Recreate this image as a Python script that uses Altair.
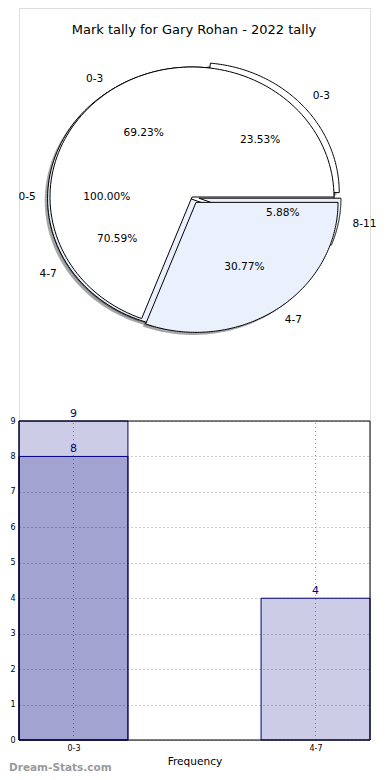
import altair as alt
import pandas as pd

# ---------------- data ----------------
title_text = "Mark tally for Gary Rohan - 2022 tally"

pie1_labels = ["0-5"]
pie1_values = [13]
pie2_labels = ["0-3", "4-7"]
pie2_values = [9, 4]
pie3_labels = ["0-3", "4-7", "8-11"]
pie3_values = [4, 12, 1]

pie1_explode = [0.0]
pie2_explode = [0.0, 0.05]
pie3_explode = [0.05, 0.02, 0.05]
slice_colors = ["#ffffff", "#eaf0fc", "#eaf0fc"]
draw_order = [0, 2, 1]  # pie1, pie3, pie2 (last on top)

bar_categories = ["0-3", "4-7"]
bar_series_a = [9, 4]
bar_series_b = [8, None]
watermark = "Dream-Stats.com"
x_title = "Frequency"

# ---------------- geometry (plot-area pixels) ----------------
W, H = 351, 732
CX, CY = 173, 189
RX, RY = 142, 130
N = 120  # arc sampling steps
BAR_HALF = 0.225
Y_BOTTOM, Y_TOP = 732, 413
FONT = "DejaVu Sans"

rows = []
pies = [(pie1_labels, pie1_values, pie1_explode),
        (pie2_labels, pie2_values, pie2_explode),
        (pie3_labels, pie3_values, pie3_explode)]
for pid, (labs, vals, exps) in enumerate(pies):
    for k, (lab, val, ex) in enumerate(zip(labs, vals, exps)):
        rows.append(dict(pie=pid, k=k, label=lab, value=val, explode=ex,
                         steps=list(range(-1, N + 2))))
pie_df = pd.DataFrame(rows)

pie_base = (
    alt.Chart(pie_df)
    .transform_joinaggregate(total="sum(value)", groupby=["pie"])
    .transform_window(cum="sum(value)", groupby=["pie"],
                      sort=[alt.SortField("k")], frame=[None, 0])
    .transform_calculate(
        a0="2*PI*(datum.cum-datum.value)/datum.total",
        a1="2*PI*datum.cum/datum.total")
    .transform_calculate(mid="(datum.a0+datum.a1)/2")
    .transform_calculate(
        cx=f"{CX}+datum.explode*{RX}*cos(datum.mid)",
        cy=f"{CY}-datum.explode*{RY}*sin(datum.mid)")
    .transform_calculate(
        lx=f"datum.cx+1.1*{RX}*cos(datum.mid)",
        ly=f"datum.cy-1.1*{RY}*sin(datum.mid)",
        px=f"datum.cx+0.6*{RX}*cos(datum.mid)",
        py=f"datum.cy-0.6*{RY}*sin(datum.mid)",
        cm="cos(datum.mid)",
        pct="format(100*datum.value/datum.total, '.2f') + '%'")
)

poly = (
    pie_base.transform_flatten(["steps"])
    .transform_calculate(
        full="datum.a1-datum.a0 > 2*PI-1e-9",
        isc=f"datum.steps<0 || datum.steps>{N}",
        ang=f"datum.a0+(datum.a1-datum.a0)*clamp(datum.steps,0,{N})/{N}")
    .transform_filter("!(datum.full && datum.isc)")
    .transform_calculate(
        vx=f"datum.isc ? datum.cx : datum.cx+{RX}*cos(datum.ang)",
        vy=f"datum.isc ? datum.cy : datum.cy-{RY}*sin(datum.ang)")
    .transform_calculate(
        sx=f"datum.vx-0.02*{RX}",
        sy=f"datum.vy+0.02*{RY}")
)

layers = []
# shadows (all beneath the wedges, as matplotlib's zorder does)
for p in draw_order:
    for k in range(len(pies[p][0])):
        layers.append(
            poly.transform_filter(f"datum.pie=={p} && datum.k=={k}")
            .mark_line(fill="#4d4d4d", fillOpacity=0.5, strokeOpacity=0)
            .encode(x=alt.X("sx:Q", scale=None), y=alt.Y("sy:Q", scale=None),
                    order=alt.Order("steps:Q"))
        )
for p in draw_order:
    for k in range(len(pies[p][0])):
        layers.append(
            poly.transform_filter(f"datum.pie=={p} && datum.k=={k}")
            .mark_line(fill=slice_colors[k], stroke="black", strokeWidth=1,
                       strokeJoin="miter")
            .encode(x=alt.X("vx:Q", scale=None), y=alt.Y("vy:Q", scale=None),
                    order=alt.Order("steps:Q"))
        )

lab_left = pie_base.transform_filter("datum.cm>0.0001").mark_text(
    align="left", baseline="middle", fontSize=10.6, font=FONT, color="black"
).encode(x=alt.X("lx:Q", scale=None), y=alt.Y("ly:Q", scale=None), text="label:N")
lab_right = pie_base.transform_filter("datum.cm<=0.0001").mark_text(
    align="right", baseline="middle", fontSize=10.6, font=FONT, color="black"
).encode(x=alt.X("lx:Q", scale=None), y=alt.Y("ly:Q", scale=None), text="label:N")
pct_text = pie_base.mark_text(
    align="center", baseline="middle", fontSize=10.6, font=FONT, color="black"
).encode(x=alt.X("px:Q", scale=None), y=alt.Y("py:Q", scale=None), text="pct:N")

title_df = pd.DataFrame({"t": [title_text]})
title_layer = alt.Chart(title_df).mark_text(
    fontSize=13, font=FONT, color="black", align="center", baseline="middle"
).encode(x=alt.value(175), y=alt.value(22), text="t:N")

# ---------------- bar chart ----------------
brows = []
for sname, series in (("a", bar_series_a), ("b", bar_series_b)):
    for i, (cat, v) in enumerate(zip(bar_categories, series)):
        if v is not None:
            brows.append(dict(series=sname, idx=i, category=cat, value=v))
bar_df = pd.DataFrame(brows)
cat_df = pd.DataFrame({"idx": list(range(len(bar_categories))),
                       "category": bar_categories})

xscale = alt.Scale(domain=[-BAR_HALF, len(bar_categories) - 1 + BAR_HALF],
                   nice=False, zero=False)
yscale = alt.Scale(domain=[0, 9], range=[Y_BOTTOM, Y_TOP], nice=False)
label_expr = "[" + ",".join(f"'{c}'" for c in bar_categories) + "][datum.value]"
xaxis = alt.Axis(values=list(range(len(bar_categories))), labelExpr=label_expr,
                 grid=False, domain=False, ticks=False, labelPadding=4,
                 labelFontSize=8, labelColor="black", labelFont=FONT,
                 title=x_title, titleFontSize=10.6, titleFontWeight="normal",
                 titleFont=FONT, titleColor="black", titlePadding=4)
yaxis = alt.Axis(values=list(range(0, 10)), grid=True, gridDash=[1, 3],
                 gridColor="#999999", gridWidth=1, domain=False, ticks=False,
                 labelPadding=4, labelFontSize=8, labelColor="black",
                 labelFont=FONT, title=None)

bars = alt.Chart(bar_df).transform_calculate(
    x0=f"datum.idx-{BAR_HALF}", x1=f"datum.idx+{BAR_HALF}"
).mark_rect(fill="navy", fillOpacity=0.2, stroke="navy", strokeWidth=1).encode(
    x=alt.X("x0:Q", scale=xscale, axis=xaxis),
    x2=alt.X2("x1:Q"),
    y=alt.Y("value:Q", scale=yscale, axis=yaxis),
    y2=alt.Y2(datum=0),
)
bar_text = alt.Chart(bar_df).mark_text(
    color="navy", fontSize=11, font=FONT, baseline="bottom", dy=-2
).encode(
    x=alt.X("idx:Q", scale=xscale, axis=xaxis),
    y=alt.Y("value:Q", scale=yscale, axis=yaxis),
    text=alt.Text("value:Q"),
)
xgrid = alt.Chart(cat_df).mark_rule(color="#999999", strokeDash=[1, 3]).encode(
    x=alt.X("idx:Q", scale=xscale, axis=xaxis),
    y=alt.Y(datum=0, scale=yscale, axis=yaxis),
    y2=alt.Y2(datum=9),
)
frame = alt.Chart(cat_df.head(1)).mark_rect(
    filled=False, stroke="black", strokeWidth=1
).encode(
    x=alt.X(datum=-BAR_HALF, scale=xscale, axis=xaxis),
    x2=alt.X2(datum=len(bar_categories) - 1 + BAR_HALF),
    y=alt.Y(datum=0, scale=yscale, axis=yaxis),
    y2=alt.Y2(datum=9),
)
wm_df = pd.DataFrame({"t": [watermark]})
wm = alt.Chart(wm_df).mark_text(
    fontSize=10.5, fontWeight="bold", font=FONT, color="#9a9a9a",
    align="left", baseline="alphabetic"
).encode(x=alt.value(-10), y=alt.value(763), text="t:N")

chart = alt.layer(
    *layers, lab_left, lab_right, pct_text, title_layer,
    xgrid, bars, bar_text, frame, wm
).properties(
    width=W, height=H,
    autosize=alt.AutoSizeParams(type="none"),
    padding={"left": 11, "top": 0, "right": 12, "bottom": 32},
).configure_view(stroke=None).configure(font=FONT)

chart.save("out.html", embed_options={"renderer": "svg", "actions": False})
